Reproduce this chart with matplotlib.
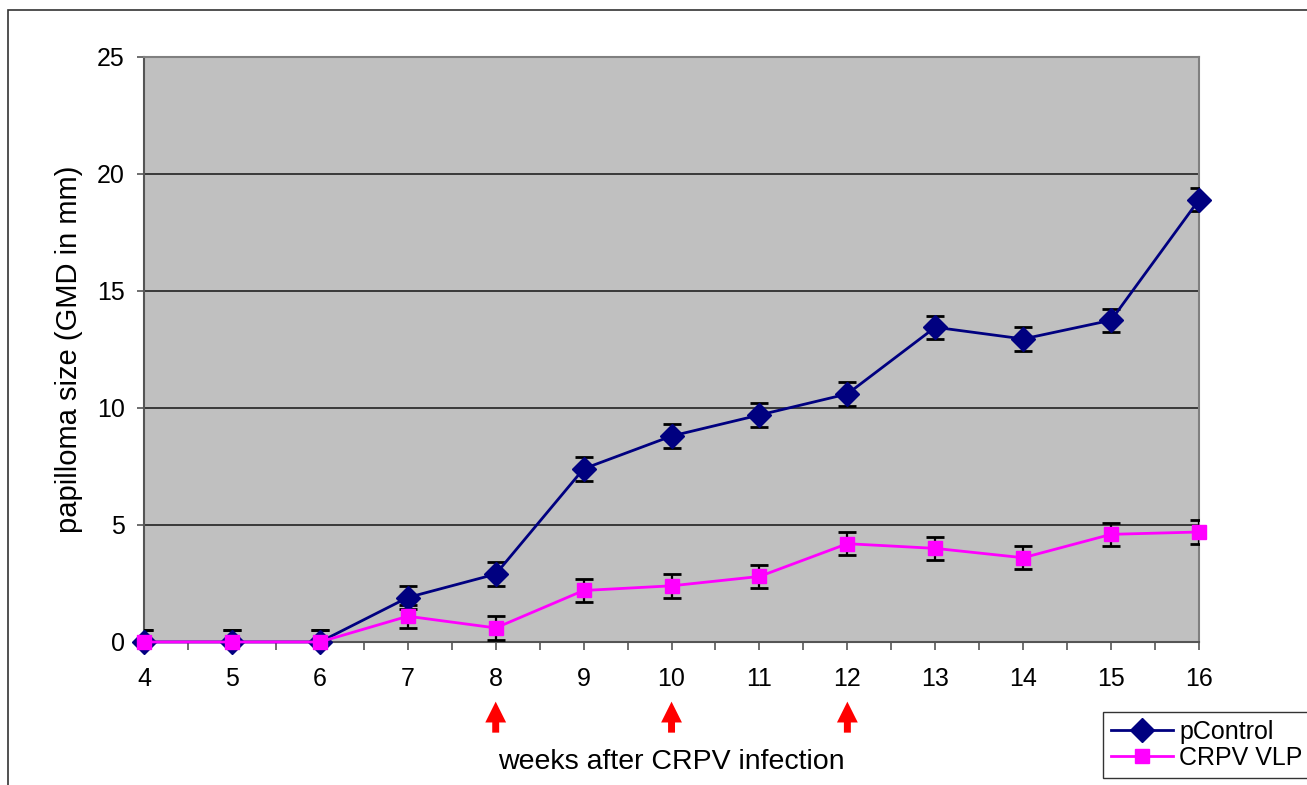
import matplotlib
matplotlib.use("Agg")
import matplotlib.pyplot as plt
from matplotlib.patches import Rectangle
from matplotlib.lines import Line2D
from matplotlib.ticker import MultipleLocator

plt.rcParams['font.family'] = ['Liberation Sans', 'DejaVu Sans']

weeks = [4, 5, 6, 7, 8, 9, 10, 11, 12, 13, 14, 15, 16]
pcontrol = [0, 0, 0, 1.9, 2.9, 7.4, 8.8, 9.7, 10.6, 13.45, 12.95, 13.75, 18.9]
pcontrol_err = [0.5] * 13
crpv_vlp = [0, 0, 0, 1.1, 0.6, 2.2, 2.4, 2.8, 4.2, 4.0, 3.6, 4.6, 4.7]
crpv_err = [0.5] * 13
boost_weeks = [8, 10, 12]

navy = '#000080'
magenta = '#FF00FF'

fig = plt.figure(figsize=(13.07, 7.85), dpi=100)
fig.patch.set_facecolor('white')
ax = fig.add_axes([0.1102, 0.1822, 0.8072, 0.7452])
ax.set_facecolor('#C0C0C0')

# outer frame
fig.patches.append(Rectangle((8 / 1307, -0.05), 1.2, 1 - 10 / 785 + 0.05,
                             transform=fig.transFigure, fill=False,
                             edgecolor='#333333', linewidth=1.2))

# error bars (clipped at plot area)
for vals, errs in [(pcontrol, pcontrol_err), (crpv_vlp, crpv_err)]:
    ax.errorbar(weeks, vals, yerr=errs, fmt='none', ecolor='black',
                elinewidth=1.6, capsize=6.5, capthick=2.0, zorder=3)
# series lines and markers (not clipped)
ax.plot(weeks, pcontrol, color=navy, lw=2.0, marker='D', markersize=12,
        zorder=4, clip_on=False)
ax.plot(weeks, crpv_vlp, color=magenta, lw=2.0, marker='s', markersize=10,
        zorder=5, clip_on=False)

ax.set_xlim(4, 16)
ax.set_ylim(0, 25)
ax.xaxis.set_major_locator(MultipleLocator(1))
ax.xaxis.set_minor_locator(MultipleLocator(0.5))
ax.yaxis.set_major_locator(MultipleLocator(5))
ax.grid(axis='y', color='#222222', linewidth=1.2, zorder=1)
ax.set_axisbelow(True)
for s in ['top', 'right']:
    ax.spines[s].set_color('#808080')
    ax.spines[s].set_linewidth(1.5)
for s in ['left', 'bottom']:
    ax.spines[s].set_color('#555555')
    ax.spines[s].set_linewidth(1.5)
ax.tick_params(axis='both', which='major', labelsize=18, width=1.2,
               color='#555555', direction='out')
ax.tick_params(axis='x', which='both', length=6, width=1.2, color='#555555')
ax.tick_params(axis='x', which='major', pad=12)
ax.tick_params(axis='y', which='major', length=5, pad=9)
ax.set_ylabel('papilloma size (GMD in mm)', fontsize=21, labelpad=10)
ax.set_xlabel('weeks after CRPV infection', fontsize=20.5, labelpad=42)

for w in boost_weeks:
    ax.annotate('', xy=(w, -0.102), xytext=(w, -0.155),
                xycoords=('data', 'axes fraction'),
                textcoords=('data', 'axes fraction'),
                arrowprops=dict(arrowstyle='simple,head_length=1.5,head_width=1.5,tail_width=0.5',
                                mutation_scale=10, fc='red', ec='none', lw=0,
                                shrinkA=0, shrinkB=0),
                annotation_clip=False)

handles = [Line2D([], [], color=navy, lw=2.0, marker='D', markersize=12),
           Line2D([], [], color=magenta, lw=2.0, marker='s', markersize=10)]
leg = fig.legend(handles, ['pControl', 'CRPV VLP'], loc='upper left',
                 bbox_to_anchor=(1103 / 1307, 1 - 712 / 785),
                 fontsize=18, frameon=True, fancybox=False, edgecolor='black',
                 handlelength=2.5, borderpad=0.3, labelspacing=0.1,
                 handletextpad=0.25, borderaxespad=0)
leg.get_frame().set_linewidth(1.0)

fig.savefig('out.png', dpi=100, facecolor='white')
